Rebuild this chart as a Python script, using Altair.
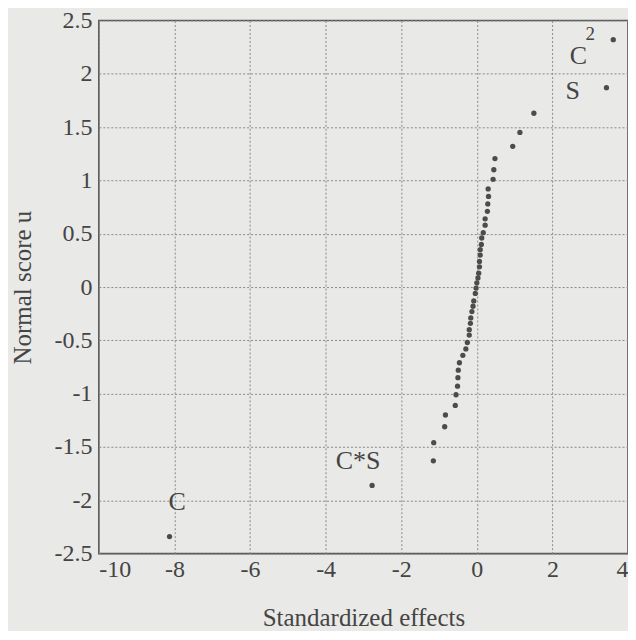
import altair as alt
import pandas as pd

# Normal scores (u) and standardized effects
effects = [-8.13, -2.77, -1.15, -1.14, -0.85, -0.83, -0.57, -0.55, -0.51, -0.50,
           -0.49, -0.46, -0.37, -0.29, -0.25, -0.20, -0.20, -0.17, -0.16, -0.13,
           -0.10, -0.08, -0.04, -0.02, 0.00, 0.03, 0.05, 0.07, 0.07, 0.09,
           0.09, 0.12, 0.13, 0.17, 0.22, 0.22, 0.28, 0.29, 0.31, 0.30,
           0.43, 0.45, 0.48, 0.95, 1.14, 1.51, 3.43, 3.61]
scores = [-2.34, -1.86, -1.63, -1.46, -1.31, -1.20, -1.11, -1.01, -0.93, -0.85,
          -0.78, -0.71, -0.64, -0.58, -0.52, -0.45, -0.40, -0.34, -0.29, -0.23,
          -0.18, -0.13, -0.06, -0.01, 0.04, 0.085, 0.13, 0.19, 0.24, 0.30,
          0.35, 0.40, 0.46, 0.51, 0.58, 0.64, 0.71, 0.78, 0.85, 0.92,
          1.01, 1.10, 1.205, 1.32, 1.45, 1.63, 1.87, 2.32]

# Effect labels
label_text = ["C", "C*S", "S", "C", "2"]
label_x = [-7.93, -3.14, 2.54, 2.69, 3.0]
label_y = [-2.02, -1.63, 1.835, 2.17, 2.37]
label_size = [26, 26, 26, 26, 19]

x_ticks = [-10, -8, -6, -4, -2, 0, 2, 4]
y_ticks = [-2.5, -2, -1.5, -1, -0.5, 0, 0.5, 1, 1.5, 2, 2.5]

FONT = "Liberation Serif"
INK = "#444444"
BG = "#e9e9e7"

pts = pd.DataFrame({"effect": effects, "u": scores})
labs = pd.DataFrame({"t": label_text, "x": label_x, "y": label_y, "s": label_size})

xscale = alt.Scale(domain=[-10, 4], nice=False, zero=False)
yscale = alt.Scale(domain=[-2.5, 2.5], nice=False, zero=False)

xaxis = alt.Axis(values=x_ticks, title="Standardized effects", grid=True,
                 gridDash=[2, 2], gridColor="#8a8a8a", gridWidth=1,
                 ticks=False, domain=False, labelPadding=4,
                 labelExpr="'' + datum.value", titlePadding=24)
yaxis = alt.Axis(values=y_ticks, title="Normal score u", grid=True,
                 gridDash=[2, 2], gridColor="#8a8a8a", gridWidth=1,
                 ticks=False, domain=False, labelPadding=7,
                 labelExpr="'' + datum.value", titlePadding=18)

points = alt.Chart(pts).mark_circle(size=28, color="#4c4c4c", opacity=1).encode(
    x=alt.X("effect:Q", scale=xscale, axis=xaxis),
    y=alt.Y("u:Q", scale=yscale, axis=yaxis),
)

texts = alt.Chart(labs).mark_text(font=FONT, color=INK, align="center",
                                  baseline="middle").encode(
    x=alt.X("x:Q", scale=xscale),
    y=alt.Y("y:Q", scale=yscale),
    text="t:N",
    size=alt.Size("s:Q", scale=None, legend=None),
)

chart = alt.layer(points, texts).properties(
    width=530, height=534,
    padding={"left": 3, "top": 0, "right": 0, "bottom": 0},
    background=BG
).configure_view(
    stroke="#555555", strokeWidth=1.6, fill=BG
).configure_axis(
    labelFont=FONT, titleFont=FONT, labelFontSize=24, titleFontSize=25,
    labelColor=INK, titleColor=INK, titleFontWeight="normal"
)

chart.save("out.html", embed_options={"renderer": "svg", "actions": False})
